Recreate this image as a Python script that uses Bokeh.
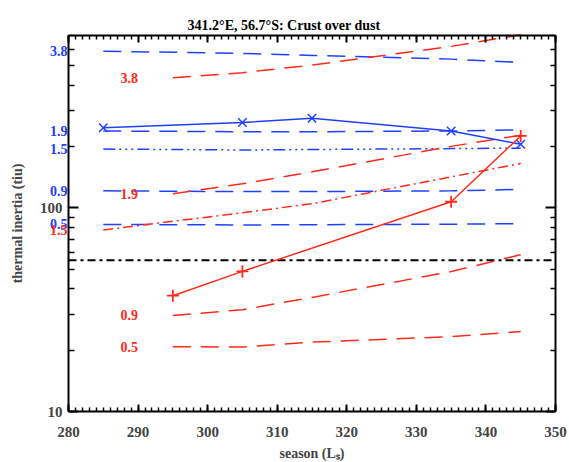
import math
from bokeh.plotting import figure
from bokeh.models import (FixedTicker, SingleIntervalTicker, LinearAxis, LogAxis,
                          Label, PrintfTickFormatter)
from bokeh.embed import file_html
from bokeh.resources import INLINE

# ---------------- data ----------------
title_text = "341.2°E, 56.7°S: Crust over dust"
x_label = "season (Lₛ)"
y_label = "thermal inertia (tiu)"

# observed thermal inertia
season_blue_obs = [285, 305, 315, 335, 345]
ti_blue_obs = [247, 262, 275, 238, 205]
season_red_obs = [295, 305, 335, 345]
ti_red_obs = [37.0, 48.7, 107, 225]

# blue model curves (labels = layer parameter)
season_blue_model = [285, 305, 315, 335, 345]
blue_model_labels = ["3.8", "1.9", "1.5", "0.9", "0.5"]
blue_3_8 = [586, 572, 559, 536, 516]
blue_1_9 = [238, 236, 236, 238, 241]
blue_1_5 = [194, 192, 193, 195, 196]
blue_0_9 = [121, 120, 120, 121, 123]
blue_0_5 = [82.8, 82.3, 82.5, 83.0, 83.5]

# red model curves
season_red_model = [295, 305, 315, 335, 345]
red_model_labels = ["3.8", "1.9", "0.9", "0.5"]
red_3_8 = [434, 460, 501, 619, 706]
red_1_9 = [117, 131, 150, 200, 227]
red_0_9 = [29.6, 31.6, 36.3, 48.6, 58.8]
red_0_5 = [20.8, 20.7, 21.9, 23.3, 24.7]
season_red_1_5 = [285, 305, 315, 335, 345]
red_1_5 = [77.8, 94.5, 104.6, 141.7, 164.9]

# background threshold
season_threshold = [280, 350]
ti_threshold = [55.2, 55.2]

x_min, x_max = 280, 350
y_min, y_max = 10, 700
x_ticks_interval = 10
y_major_ticks = [10, 100]
y_minor_ticks = [20, 30, 40, 50, 60, 70, 80, 90, 200, 300, 400, 500, 600, 700]

BLUE = "#2040ff"
RED = "#ff2a1a"
FONT = "Liberation Serif"

# ---------------- layout (pixel placement of the axes box) ----------------
W, H = 569, 462
AX_L, AX_R, AX_T, AX_B = 68, 555, 35, 411   # axes box in canvas pixels
px_per_unit = (AX_R - AX_L) / (x_max - x_min)
x_view_start = x_min - AX_L / px_per_unit
x_view_end = x_max + (W - AX_R) / px_per_unit
px_per_decade = (AX_B - AX_T) / math.log10(y_max / y_min)
y_view_start = y_min * 10 ** (-(H - AX_B) / px_per_decade)
y_view_end = y_max * 10 ** (AX_T / px_per_decade)

p = figure(width=W, height=H, x_range=(x_view_start, x_view_end),
           y_range=(y_view_start, y_view_end),
           y_axis_type="log", output_backend="svg", toolbar_location=None,
           min_border_left=0, min_border_right=0,
           min_border_top=0, min_border_bottom=0,
           x_axis_location=None, y_axis_location=None)
p.outline_line_color = None
p.grid.visible = False
p.background_fill_color = "white"
p.border_fill_color = "white"

xt = SingleIntervalTicker(interval=x_ticks_interval, num_minor_ticks=10)
yt = FixedTicker(ticks=y_major_ticks, minor_ticks=y_minor_ticks)


def style(ax, mj, mn, labels=True):
    ax.axis_line_width = 2
    ax.axis_line_color = "black"
    ax.major_tick_in = mj
    ax.major_tick_out = 0
    ax.minor_tick_in = mn
    ax.minor_tick_out = 0
    ax.major_tick_line_width = 2
    ax.minor_tick_line_width = 1.5
    ax.major_label_text_font = FONT
    ax.major_label_text_font_style = "bold"
    if labels:
        ax.major_label_text_font_size = "15px"
    else:
        ax.major_label_text_font_size = "1px"
        ax.major_label_text_color = None
        ax.major_label_standoff = 0
    ax.axis_label_text_font = FONT
    ax.axis_label_text_font_style = "bold"
    ax.axis_label_text_font_size = "14px"


xb = LinearAxis(ticker=xt, axis_label=x_label, bounds=(x_min, x_max), fixed_location=y_min)
style(xb, 7, 4)
xb.major_label_standoff = 15
xb.axis_label_standoff = 6
p.add_layout(xb, "below")

xa = LinearAxis(ticker=xt, bounds=(x_min, x_max), fixed_location=y_max)
style(xa, 7, 4, labels=False)
p.add_layout(xa, "above")

yl = LogAxis(ticker=yt, axis_label=y_label, formatter=PrintfTickFormatter(format="%d"),
             bounds=(y_min, y_max), fixed_location=x_min)
style(yl, 10, 6)
yl.major_label_standoff = 6
yl.axis_label_standoff = 12
p.add_layout(yl, "left")

yr = LogAxis(ticker=yt, bounds=(y_min, y_max), fixed_location=x_max)
style(yr, 10, 5, labels=False)
p.add_layout(yr, "right")

# ---------------- lines ----------------
DASH = "18 10"
p.line(season_threshold, ti_threshold, line_color="black", line_width=2, line_dash="8 4 3 4")

p.line(season_blue_model, blue_3_8, line_color=BLUE, line_width=1.5, line_dash=DASH)
p.line(season_blue_model, blue_1_9, line_color=BLUE, line_width=1.5, line_dash=DASH)
p.line(season_blue_model, blue_1_5, line_color=BLUE, line_width=1.5, line_dash="12 4 2 4 2 4 2 4")
p.line(season_blue_model, blue_0_9, line_color=BLUE, line_width=1.5, line_dash=DASH)
p.line(season_blue_model, blue_0_5, line_color=BLUE, line_width=1.5, line_dash=DASH)

p.line(season_red_model, red_3_8, line_color=RED, line_width=1.5, line_dash=DASH)
p.line(season_red_model, red_1_9, line_color=RED, line_width=1.5, line_dash=DASH)
p.line(season_red_model, red_0_9, line_color=RED, line_width=1.5, line_dash=DASH)
p.line(season_red_model, red_0_5, line_color=RED, line_width=1.5, line_dash=DASH)
p.line(season_red_1_5, red_1_5, line_color=RED, line_width=1.5, line_dash="10 4 2 4")

p.line(season_blue_obs, ti_blue_obs, line_color=BLUE, line_width=1.5)
p.scatter(season_blue_obs, ti_blue_obs, marker="x", size=12, line_color=BLUE, line_width=1.5)
p.line(season_red_obs, ti_red_obs, line_color=RED, line_width=1.5)
p.scatter(season_red_obs, ti_red_obs, marker="cross", size=12, line_color=RED, line_width=1.8)

# ---------------- labels ----------------
title_center_x = x_min + (283.5 - AX_L) / px_per_unit
p.add_layout(Label(x=title_center_x, y=y_max, y_offset=10, text=title_text,
                   text_color="black", text_font=FONT, text_font_style="bold",
                   text_font_size="14px", text_align="center", text_baseline="middle"))

blue_curves = [blue_3_8, blue_1_9, blue_1_5, blue_0_9, blue_0_5]
for txt, curve in zip(blue_model_labels, blue_curves):
    p.add_layout(Label(x=x_min, y=curve[0], x_offset=-1, text=txt, text_color=BLUE,
                       text_font=FONT, text_font_style="bold", text_font_size="14px",
                       text_align="right", text_baseline="alphabetic"))

p.add_layout(Label(x=x_min, y=red_1_5[0], x_offset=-1, text="1.5", text_color=RED,
                   text_font=FONT, text_font_style="bold", text_font_size="14px",
                   text_align="right", text_baseline="alphabetic"))

red_label_x = 290
red_curves = [red_3_8, red_1_9, red_0_9, red_0_5]
for txt, curve in zip(red_model_labels, red_curves):
    p.add_layout(Label(x=red_label_x, y=curve[0], text=txt, text_color=RED,
                       text_font=FONT, text_font_style="bold", text_font_size="14px",
                       text_align="right", text_baseline="alphabetic"))

open("out.html", "w").write(file_html(p, INLINE))
